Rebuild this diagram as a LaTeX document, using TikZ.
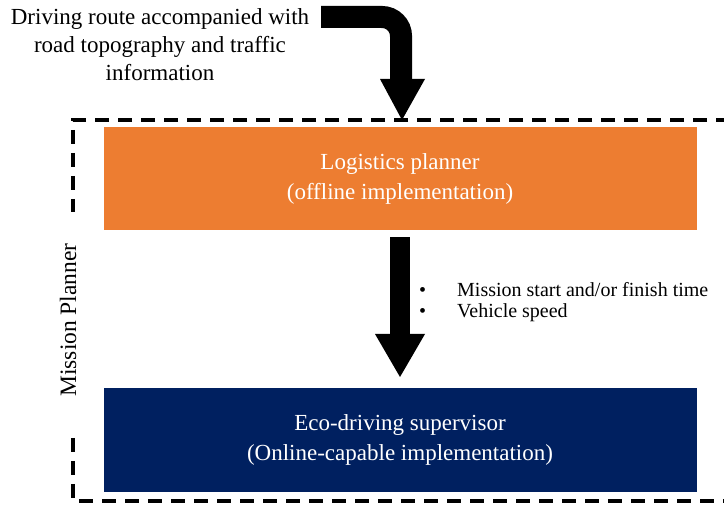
\documentclass[tikz,border=0pt]{standalone}
\usepackage{fontspec}
\setmainfont{Liberation Serif}
\definecolor{orangebox}{HTML}{ED7D31}
\definecolor{navybox}{HTML}{002060}
\begin{document}
\begin{tikzpicture}[x=1pt,y=-1pt,
  boxstyle/.style={draw=none, text=white, minimum width=593pt, minimum height=103pt, inner sep=0pt, align=center, font=\fontsize{23}{30}\selectfont},
  dashbox/.style={line width=3.5pt, dash pattern=on 14pt off 9pt},
  plain/.style={align=center, inner sep=0pt}]
\useasboundingbox (0,0) rectangle (724,505);
\clip (0,0) rectangle (724,505);
% dashed frame
\draw[dashbox] (730,120) -- (73,120) -- (73,212);
\draw[dashbox] (73,438) -- (73,501) -- (730,501);
% boxes
\node[boxstyle, fill=orangebox] (lp) at (400,179) {Logistics planner\\(offline implementation)};
\node[boxstyle, fill=navybox] (eco) at (400,440) {Eco-driving supervisor\\(Online-capable implementation)};
% label
\node[plain, rotate=90, font=\fontsize{23.5}{26}\selectfont] (mp) at (68,320) {Mission Planner};
% input text
\node[plain, font=\fontsize{23}{28}\selectfont] (in) at (160,45) {Driving route accompanied with\\road topography and traffic\\information};
% top bent arrow
\coordinate (a0) at (321,17);
\coordinate (a1) at (401,17);
\coordinate (a2) at (401,80);
\draw[line width=22pt, rounded corners=19pt] (a0) -- (a1) -- (a2);
\coordinate (tip1) at (402,120);
\fill (380,79) -- (425,79) -- (tip1) -- cycle;
% middle arrow
\coordinate (s0) at (400,237);
\coordinate (tip2) at (400,377);
\fill (390,237) rectangle (410,335);
\fill (375,334) -- (425,334) -- (tip2) -- cycle;
% bullets
\node[plain, anchor=west, font=\fontsize{20}{22}\selectfont] (b1) at (419,290) {\textbullet\hspace{31pt}Mission start and/or finish time};
\node[plain, anchor=west, font=\fontsize{20}{22}\selectfont] (b2) at (419,313) {\textbullet\hspace{31pt}Vehicle speed};
\end{tikzpicture}
\end{document}
